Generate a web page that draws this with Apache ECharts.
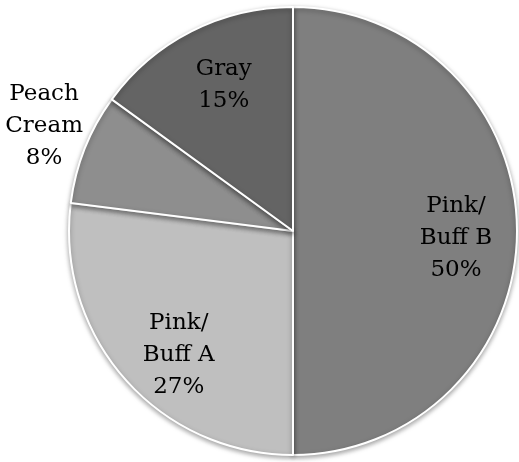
<!DOCTYPE html>
<html><head><meta charset="utf-8">
<script src="https://cdn.jsdelivr.net/npm/echarts@6/dist/echarts.min.js"></script>
<style>html,body{margin:0;padding:0;background:#fff}#c{width:519px;height:462px}</style>
</head><body><div id="c"></div>
<script>
const categories = ['Pink/\nBuff B', 'Pink/\nBuff A', 'Peach\nCream', 'Gray'];
const values = [50, 27, 8, 15];
const colors = ['#7f7f7f', '#bfbfbf', '#8e8e8e', '#646464'];
const labelShift = [[48, 7], [-28, 48], [-142, -63], [-17, -44]];

const chart = echarts.init(document.getElementById('c'), null, {renderer: 'canvas'});
chart.setOption({
  animation: false,
  series: [{
    type: 'pie',
    center: [293, 231],
    radius: [0, 224],
    startAngle: 90,
    clockwise: true,
    avoidLabelOverlap: false,
    data: categories.map((n, i) => ({name: n, value: values[i], itemStyle: {color: colors[i]}})),
    itemStyle: {borderColor: '#fff', borderWidth: 2, shadowBlur: 5, shadowColor: 'rgba(0,0,0,0.35)', shadowOffsetY: 2},
    label: {
      show: true, position: 'inside',
      formatter: p => p.name + '\n' + p.value + '%',
      fontFamily: 'DejaVu Serif', fontSize: 23, lineHeight: 32, color: '#000', align: 'center'
    },
    labelLine: {show: false},
    labelLayout: p => ({dx: labelShift[p.dataIndex][0], dy: labelShift[p.dataIndex][1]}),
    emphasis: {disabled: true}
  }]
});
</script></body></html>
